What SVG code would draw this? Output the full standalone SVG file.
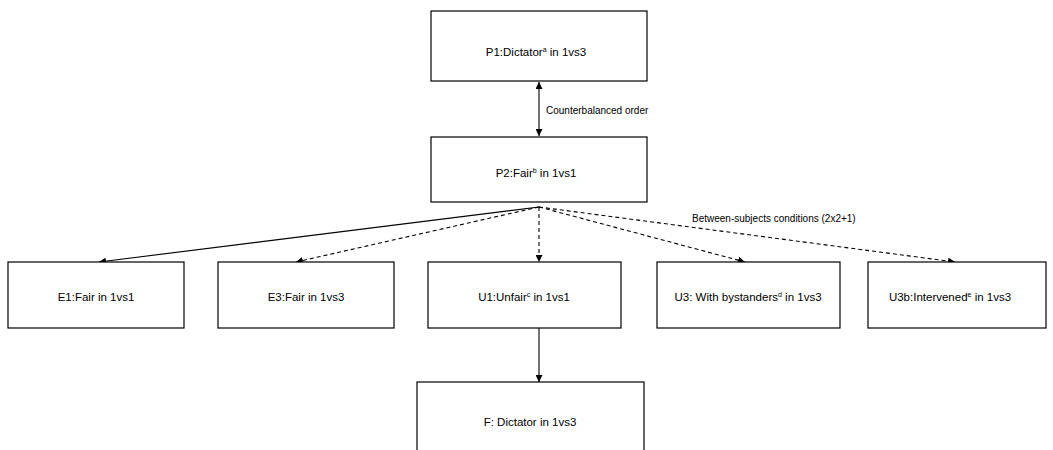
<svg xmlns="http://www.w3.org/2000/svg" width="1053" height="450" viewBox="0 0 1053 450">
<style>
.box{fill:#fff;stroke:#000;stroke-width:1.2}
.t{font-family:"Liberation Sans",Arial,sans-serif;font-size:11.5px;fill:#000;text-anchor:middle}
.lbl{font-family:"Liberation Sans",Arial,sans-serif;font-size:10px;fill:#000}
.sup{font-size:7px}
.c{fill:none;stroke:#000;stroke-width:1.1}
.d{stroke-dasharray:4,3}
</style>
<defs>
<marker id="ah" viewBox="0 0 10 10" refX="10" refY="5" markerWidth="7" markerHeight="7" orient="auto-start-reverse" markerUnits="userSpaceOnUse">
<path d="M0,0 L10,5 L0,10 z" fill="#000"/>
</marker>
</defs>
<rect width="1053" height="450" fill="#fff"/>
<g id="connectors">
<line class="c" x1="539" y1="82" x2="539" y2="136" marker-start="url(#ah)" marker-end="url(#ah)"/>
<line class="c" x1="539" y1="207" x2="99" y2="262" marker-end="url(#ah)"/>
<line class="c d" x1="539" y1="207" x2="296" y2="262" marker-end="url(#ah)"/>
<line class="c d" x1="539" y1="207" x2="539" y2="262" marker-end="url(#ah)"/>
<line class="c d" x1="539" y1="207" x2="745" y2="262" marker-end="url(#ah)"/>
<line class="c d" x1="539" y1="207" x2="955" y2="262" marker-end="url(#ah)"/>
<line class="c" x1="539" y1="328" x2="539" y2="382" marker-end="url(#ah)"/>
<text class="lbl" x="546" y="114">Counterbalanced order</text>
<text class="lbl" x="692" y="222">Between-subjects conditions (2x2+1)</text>
</g>
<g id="P1"><rect class="box" x="431" y="11" width="216" height="70"/><text class="t" x="536" y="56">P1:Dictator<tspan class="sup" dy="-4">a</tspan><tspan dy="4"> in 1vs3</tspan></text></g>
<g id="P2"><rect class="box" x="431" y="137" width="216" height="65"/><text class="t" x="536" y="177">P2:Fair<tspan class="sup" dy="-4">b</tspan><tspan dy="4"> in 1vs1</tspan></text></g>
<g id="E1"><rect class="box" x="8" y="262" width="176" height="66"/><text class="t" x="96" y="301">E1:Fair in 1vs1</text></g>
<g id="E3"><rect class="box" x="218" y="262" width="176" height="66"/><text class="t" x="306" y="301">E3:Fair in 1vs3</text></g>
<g id="U1"><rect class="box" x="428" y="262" width="193" height="66"/><text class="t" x="524" y="301">U1:Unfair<tspan class="sup" dy="-4">c</tspan><tspan dy="4"> in 1vs1</tspan></text></g>
<g id="U3"><rect class="box" x="657" y="262" width="183" height="66"/><text class="t" x="748" y="301">U3: With bystanders<tspan class="sup" dy="-4">d</tspan><tspan dy="4"> in 1vs3</tspan></text></g>
<g id="U3b"><rect class="box" x="868" y="262" width="178" height="66"/><text class="t" x="950" y="301">U3b:Intervened<tspan class="sup" dy="-4">e</tspan><tspan dy="4"> in 1vs3</tspan></text></g>
<g id="F"><rect class="box" x="417" y="382" width="227" height="80"/><text class="t" x="530" y="426">F: Dictator in 1vs3</text></g>
</svg>
